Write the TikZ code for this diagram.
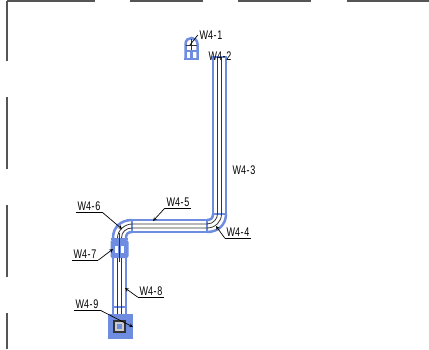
\documentclass[tikz,border=0pt]{standalone}
\usepackage{fontspec}
\newfontfamily\lblfont[FakeStretch=0.72]{Liberation Sans}
\definecolor{pipeblue}{HTML}{6F8DE0}
\definecolor{framegray}{HTML}{555555}
\newcommand{\WL}[1]{W4\kern0.6pt-\kern0.6pt#1}
\tikzset{
  pipe/.style={draw=pipeblue, line width=2.5pt},
  core/.style={draw=black!80, line width=0.8pt},
  frameline/.style={draw=framegray, line width=1.4pt},
  leader/.style={draw=black, line width=0.7pt},
  tipline/.style={leader, ->, >=stealth},
  lbl/.style={font=\lblfont\fontsize{12.5}{12.5}\selectfont, inner xsep=0pt, inner ysep=2pt,
    text height=8pt, text depth=0pt, minimum width=26pt, align=center}
}
\begin{document}
\begin{tikzpicture}[x=1pt, y=-1pt]
  \useasboundingbox (0,0) rectangle (429,349);

  %% frame
  \foreach \a/\b in {7/95, 130/203, 238/311, 347/429}
    \draw[frameline] (\a,1) -- (\b,1);
  \foreach \a/\b in {1/61, 97/169, 205/277, 313/349}
    \draw[frameline] (7,\a) -- (7,\b);

  %% pipe, blue
  \draw[pipe] (213,214) -- (213,57) -- (226,57) -- (226,214);
  \draw[pipe] (212,214) -- (227,214);
  \draw[pipe] (226,214) .. controls (226,225) and (218,232) .. (207,232);
  \draw[pipe] (213,214) .. controls (213,218) and (211,220) .. (207,220);
  \draw[pipe] (207,219) -- (207,233);
  \draw[pipe] (207,220) -- (132,220);
  \draw[pipe] (207,232) -- (132,232);
  \draw[pipe] (132,219) -- (132,233);
  \draw[pipe] (132,220) .. controls (121,220) and (113,227) .. (113,238);
  \draw[pipe] (132,232) .. controls (128,232) and (126,234) .. (126,238);
  \draw[pipe] (113,238) -- (113,315);
  \draw[pipe] (126,238) -- (126,315);
  \draw[pipe] (112,307) -- (127,307);

  %% valve
  \fill[pipeblue, rounded corners=2pt] (110.5,240) rectangle (128.5,258);
  \fill[white] (115,246) rectangle (118,253);
  \fill[white] (121,246) rectangle (124,253);
  \draw[pipe] (111,239) -- (128,239);

  %% pipe, centre lines
  \draw[core] (217.5,57) -- (217.5,214) .. controls (217.5,218) and (214,224) .. (207,224) -- (132,224);
  \draw[core] (221.5,57) -- (221.5,214) .. controls (221.5,222) and (215,228) .. (207,228) -- (132,228);
  \draw[core] (132,224) .. controls (125,224) and (117.5,230) .. (117.5,238);
  \draw[core] (132,228) .. controls (126,228) and (121.5,232) .. (121.5,238);
  \draw[core] (119.5,233) -- (119.5,262);
  \draw[core] (117.5,258) -- (117.5,315);
  \draw[core] (121.5,258) -- (121.5,315);

  %% top fitting
  \draw[pipe] (185.5,58) -- (185.5,44) .. controls (185.5,36) and (197.5,36) .. (197.5,44) -- (197.5,58);
  \draw[pipe] (184,59) -- (199,59);
  \draw[pipe] (185,51) -- (197,51);
  \draw[pipe] (191.5,51) -- (191.5,58);
  \draw[core] (191.5,39) -- (191.5,50);
  \draw[core] (186,45) -- (197,45);

  %% bottom box
  \fill[pipeblue] (108,314) rectangle (133,339);
  \fill[black!80] (113,320) rectangle (126,333);
  \fill[black!20] (115,322) rectangle (124,331);
  \fill[pipeblue] (117,324) rectangle (122,329);

  %% labels
  \node[lbl] (w1) at (211,35) {\WL{1}};
  \node[lbl] (w2) at (220,56) {\WL{2}};
  \node[lbl] (w3) at (244,170) {\WL{3}};
  \node[lbl] (w4) at (238,232) {\WL{4}};
  \node[lbl] (w5) at (178,202) {\WL{5}};
  \node[lbl] (w6) at (89,206) {\WL{6}};
  \node[lbl] (w7) at (85,254) {\WL{7}};
  \node[lbl] (w8) at (151,291) {\WL{8}};
  \node[lbl] (w9) at (87,304) {\WL{9}};

  \coordinate (t1) at (190,45);
  \coordinate (t4) at (216,226);
  \coordinate (t5) at (153,221);
  \coordinate (t6) at (122,229);
  \coordinate (t7) at (113,249);
  \coordinate (t8) at (125,288);
  \coordinate (t9) at (133,327);

  \draw[leader] (w1.west) -- (t1);
  \draw[tipline] (w4.south west) -- (t4);
  \draw[leader] (w4.south west) -- (w4.south east);
  \draw[tipline] (w5.south west) -- (t5);
  \draw[leader] (w5.south west) -- (w5.south east);
  \draw[tipline] (w6.south east) -- (t6);
  \draw[leader] (w6.south west) -- (w6.south east);
  \draw[tipline] (w7.south east) -- (t7);
  \draw[leader] (w7.south west) -- (w7.south east);
  \draw[tipline] (w8.south west) -- (t8);
  \draw[leader] (w8.south west) -- (w8.south east);
  \draw[tipline] (w9.south east) -- (t9);
  \draw[leader] (w9.south west) -- (w9.south east);
\end{tikzpicture}
\end{document}
